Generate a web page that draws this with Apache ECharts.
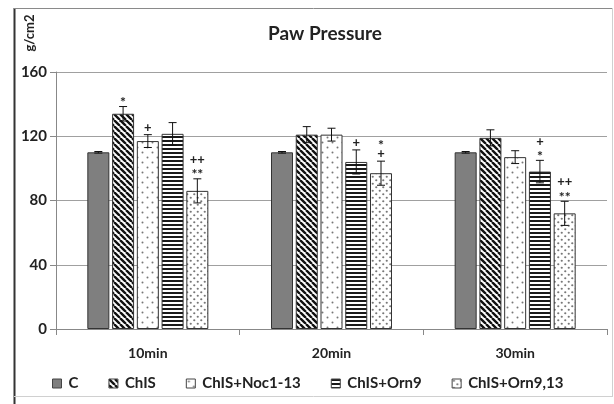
<!DOCTYPE html>
<html>
<head>
<meta charset="utf-8">
<script src="https://cdn.jsdelivr.net/npm/echarts@6/dist/echarts.min.js"></script>
<style>
  html, body { margin: 0; padding: 0; background: #fff; }
  #chart { width: 614px; height: 404px; }
</style>
</head>
<body>
<div id="chart"></div>
<script>
// Paw pressure (g/cm2) per time point and treatment group
const categories = ['10min', '20min', '30min'];
const seriesNames = ['C', 'ChIS', 'ChIS+Noc1-13', 'ChIS+Orn9', 'ChIS+Orn9,13'];

const valC      = [110, 110, 110];
const valChIS   = [134, 121, 119];
const valNoc    = [117, 121, 107];
const valOrn9   = [121.5, 104, 98];
const valOrn913 = [86, 97, 72];

const errC      = [0.5, 0.5, 0.5];
const errChIS   = [4.5, 5, 5];
const errNoc    = [4, 4, 4];
const errOrn9   = [7, 7.5, 7];
const errOrn913 = [7.5, 7.5, 7.5];

// significance marks above each bar, listed from the bar upward
const sigC      = [[], [], []];
const sigChIS   = [['*'], [], []];
const sigNoc    = [['+'], [], []];
const sigOrn9   = [[], ['+'], ['*', '+']];
const sigOrn913 = [['**', '++'], ['+', '*'], ['**', '++']];

const yTicks = [0, 40, 80, 120, 160];

const values = [valC, valChIS, valNoc, valOrn9, valOrn913];
const errors = [errC, errChIS, errNoc, errOrn9, errOrn913];
const marks  = [sigC, sigChIS, sigNoc, sigOrn9, sigOrn913];

// fill patterns
function tile(w, h, draw) {
  const c = document.createElement('canvas');
  c.width = w; c.height = h;
  const ctx = c.getContext('2d');
  ctx.fillStyle = '#fff';
  ctx.fillRect(0, 0, w, h);
  draw(ctx);
  return c;
}
const patDiag = tile(6, 6, ctx => {
  ctx.strokeStyle = '#111';
  ctx.lineWidth = 2.4;
  ctx.beginPath();
  for (const k of [-6, 0, 6]) { ctx.moveTo(k, 0); ctx.lineTo(k + 6, 6); }
  ctx.stroke();
});
const patHoriz = tile(4, 4, ctx => {
  ctx.fillStyle = '#1a1a1a';
  ctx.fillRect(0, 0, 4, 2);
});
function dots(size, r, color) {
  return tile(size, size, ctx => {
    ctx.fillStyle = color;
    const a = size / 4, b = size * 3 / 4;
    ctx.beginPath(); ctx.arc(a, a, r, 0, Math.PI * 2); ctx.fill();
    ctx.beginPath(); ctx.arc(b, b, r, 0, Math.PI * 2); ctx.fill();
  });
}
const patSparse = dots(10, 1.0, '#777');
const patDense = dots(7, 1.1, '#777');

const fills = [
  '#7f7f7f',
  { image: patDiag, repeat: 'repeat' },
  { image: patSparse, repeat: 'repeat' },
  { image: patHoriz, repeat: 'repeat' },
  { image: patDense, repeat: 'repeat' }
];

const BAR_W = 22;
const GAP_RATIO = 0.125;
const pitch = BAR_W * (1 + GAP_RATIO);
const total = seriesNames.length * BAR_W + (seriesNames.length - 1) * BAR_W * GAP_RATIO;
const offsets = seriesNames.map((_, i) => -total / 2 + i * pitch + BAR_W / 2);

const FONT = 'Lato, "Open Sans", sans-serif';

const barSeries = seriesNames.map((name, i) => ({
  name: name,
  type: 'bar',
  barWidth: BAR_W,
  barGap: (GAP_RATIO * 100) + '%',
  data: values[i],
  itemStyle: { color: fills[i], borderColor: '#333', borderWidth: 1 },
  emphasis: { disabled: true },
  z: 2
}));

const errData = [];
values.forEach((vals, si) => {
  vals.forEach((v, ci) => errData.push([ci, v, errors[si][ci], si]));
});

const errSeries = {
  type: 'custom',
  data: errData,
  encode: { x: 0, y: 1 },
  z: 5,
  silent: true,
  renderItem: function (params, api) {
    const ci = api.value(0), v = api.value(1), e = api.value(2), si = api.value(3);
    const x = api.coord([ci, v])[0] + offsets[si];
    const yTop = api.coord([ci, v + e])[1];
    const yBot = api.coord([ci, v - e])[1];
    const cap = 4;
    const st = { stroke: '#111', lineWidth: 1 };
    const children = [
      { type: 'line', shape: { x1: x, y1: yTop, x2: x, y2: yBot }, style: st },
      { type: 'line', shape: { x1: x - cap, y1: yTop, x2: x + cap, y2: yTop }, style: st },
      { type: 'line', shape: { x1: x - cap, y1: yBot, x2: x + cap, y2: yBot }, style: st }
    ];
    const list = marks[si][ci];
    list.forEach((txt, k) => {
      const isStar = txt.indexOf('*') >= 0;
      const y = yTop - 7 - k * 12 + (isStar ? 3 : 0);
      children.push({
        type: 'text',
        style: {
          text: txt, x: x, y: y,
          align: 'center', verticalAlign: 'middle',
          fill: '#222', font: (isStar ? 'bold 14px ' : 'bold 13px ') + FONT
        }
      });
    });
    return { type: 'group', children: children };
  }
};

const chart = echarts.init(document.getElementById('chart'), null, { renderer: 'canvas' });
chart.setOption({
  animation: false,
  backgroundColor: '#fff',
  title: {
    text: 'Paw Pressure',
    left: 320,
    textAlign: 'center',
    top: 19,
    textStyle: { fontFamily: FONT, fontWeight: 'bold', fontSize: 19, color: '#222' }
  },
  legend: {
    data: seriesNames,
    left: 52,
    top: 376,
    padding: 0,
    icon: 'rect',
    itemWidth: 9,
    itemHeight: 9,
    itemGap: 30,
    selectedMode: false,
    itemStyle: { borderColor: '#444', borderWidth: 1 },
    textStyle: { fontFamily: FONT, fontWeight: 'bold', fontSize: 15, color: '#222', padding: [0, 0, 0, 2] }
  },
  grid: { left: 56, right: 7, top: 72, bottom: 75 },
  xAxis: {
    type: 'category',
    data: categories,
    axisLine: { lineStyle: { color: '#888', width: 1 } },
    axisTick: { show: true, length: 6, lineStyle: { color: '#888' } },
    axisLabel: { margin: 17, fontFamily: FONT, fontWeight: 'bold', fontSize: 14, color: '#222' }
  },
  yAxis: {
    type: 'value',
    min: yTicks[0],
    max: yTicks[yTicks.length - 1],
    interval: yTicks[1] - yTicks[0],
    axisLine: { show: true, lineStyle: { color: '#888', width: 1 } },
    axisTick: { show: true, length: 6, lineStyle: { color: '#888' } },
    splitLine: { lineStyle: { color: '#a0a0a0', width: 1.2 } },
    axisLabel: { margin: 9, fontFamily: FONT, fontWeight: 'bold', fontSize: 15, color: '#222' }
  },
  graphic: [
    { type: 'line', shape: { x1: 14.5, y1: 8, x2: 14.5, y2: 404 }, style: { stroke: '#333', lineWidth: 2 } },
    { type: 'line', shape: { x1: 14, y1: 8.5, x2: 613, y2: 8.5 }, style: { stroke: '#8a8a8a', lineWidth: 1 } },
    { type: 'line', shape: { x1: 612.5, y1: 8, x2: 612.5, y2: 397 }, style: { stroke: '#d0d0d0', lineWidth: 1 } },
    { type: 'line', shape: { x1: 14, y1: 396.5, x2: 613, y2: 396.5 }, style: { stroke: '#d0d0d0', lineWidth: 1 } },
    {
      type: 'text',
      x: 30, y: 33,
      rotation: Math.PI / 2,
      style: {
        text: 'g/cm2',
        align: 'center', verticalAlign: 'middle',
        fill: '#222', font: 'bold 13px ' + FONT
      }
    }
  ],
  series: barSeries.concat([errSeries])
});
</script>
</body>
</html>
